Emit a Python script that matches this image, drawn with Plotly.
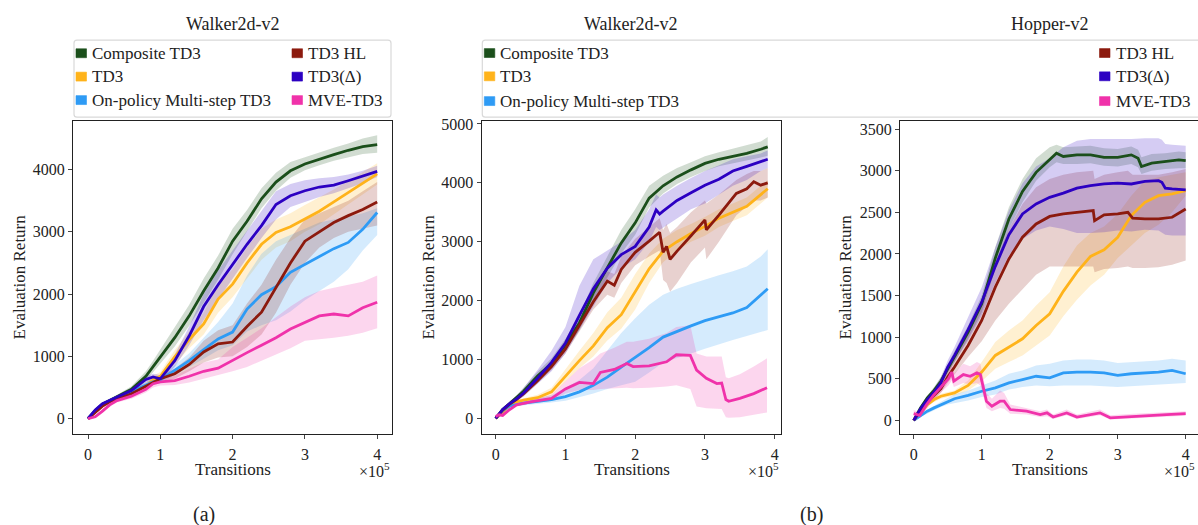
import plotly.graph_objects as go

W, H = 1198, 525
FONT = "Liberation Serif"

NAMES = ["Composite TD3", "TD3", "On-policy Multi-step TD3", "TD3 HL", "TD3(Δ)", "MVE-TD3"]
COLORS = ["#1b4f1b", "#ffb31a", "#2e9bf5", "#8c1a0e", "#2c00c2", "#f032aa"]

PANEL_TITLES = ["Walker2d-v2", "Walker2d-v2", "Hopper-v2"]
X_TICKS = [0, 1, 2, 3, 4]
Y_TICKS_A = [0, 1000, 2000, 3000, 4000]
Y_TICKS_B = [0, 1000, 2000, 3000, 4000, 5000]
Y_TICKS_C = [0, 500, 1000, 1500, 2000, 2500, 3000, 3500]

# ---------------- Panel (a): Walker2d-v2 (x in units of 1e5 transitions) ----------------
A_X = [0, 0.1, 0.2, 0.3, 0.4, 0.6, 0.8, 0.9, 1.0, 1.2, 1.4, 1.6, 1.8, 2.0, 2.2, 2.4, 2.6, 2.8, 3.0, 3.2, 3.4, 3.6, 3.8, 4.0]
A_COMP_M = [0, 130, 230, 290, 350, 470, 680, 840, 1000, 1300, 1650, 2050, 2420, 2850, 3170, 3530, 3800, 3980, 4090, 4170, 4240, 4310, 4370, 4400]
A_COMP_LO = [0, 110, 210, 270, 320, 430, 610, 760, 890, 1160, 1490, 1860, 2230, 2640, 3000, 3380, 3660, 3870, 3990, 4070, 4140, 4200, 4250, 4270]
A_COMP_HI = [0, 150, 250, 310, 380, 520, 760, 930, 1110, 1450, 1830, 2250, 2620, 3050, 3350, 3700, 3950, 4120, 4200, 4280, 4350, 4420, 4500, 4550]
A_TD3_M = [0, 110, 220, 280, 330, 400, 520, 620, 680, 990, 1270, 1520, 1920, 2160, 2500, 2800, 2990, 3080, 3200, 3330, 3480, 3630, 3780, 3930]
A_TD3_LO = [0, 90, 190, 250, 300, 360, 470, 560, 620, 880, 1130, 1350, 1700, 1950, 2250, 2550, 2750, 2850, 3000, 3120, 3280, 3430, 3600, 3760]
A_TD3_HI = [0, 130, 250, 310, 360, 450, 580, 690, 750, 1100, 1400, 1700, 2150, 2400, 2750, 3050, 3200, 3300, 3430, 3550, 3680, 3820, 3960, 4100]
A_ONP_M = [0, 130, 230, 290, 340, 430, 540, 590, 620, 780, 930, 1110, 1280, 1390, 1760, 1990, 2120, 2350, 2480, 2600, 2730, 2830, 3040, 3310]
A_ONP_LO = [0, 110, 210, 260, 310, 390, 490, 540, 570, 700, 830, 960, 1100, 1180, 1400, 1500, 1580, 1720, 1900, 2050, 2200, 2400, 2700, 2950]
A_ONP_HI = [0, 150, 250, 320, 370, 470, 590, 640, 680, 860, 1050, 1300, 1550, 1850, 2300, 2650, 2850, 2950, 3050, 3150, 3200, 3250, 3300, 3380]
A_HL_M = [0, 100, 200, 270, 320, 400, 520, 590, 640, 720, 870, 1070, 1200, 1230, 1480, 1710, 2100, 2500, 2850, 3000, 3150, 3260, 3360, 3480]
A_HL_LO = [0, 80, 180, 240, 290, 360, 470, 540, 580, 640, 760, 900, 980, 1000, 1150, 1350, 1700, 2150, 2500, 2750, 2900, 3000, 3050, 3100]
A_HL_HI = [0, 120, 220, 300, 350, 440, 570, 640, 700, 800, 980, 1250, 1420, 1500, 1850, 2150, 2550, 2900, 3200, 3300, 3400, 3500, 3650, 3800]
A_DELTA_M = [0, 140, 240, 290, 340, 450, 630, 670, 640, 930, 1330, 1800, 2150, 2480, 2800, 3100, 3440, 3580, 3660, 3720, 3750, 3820, 3900, 3970]
A_DELTA_LO = [0, 120, 220, 270, 320, 420, 580, 620, 590, 830, 1180, 1580, 1920, 2250, 2580, 2900, 3200, 3400, 3480, 3560, 3620, 3700, 3780, 3880]
A_DELTA_HI = [0, 160, 260, 310, 360, 480, 680, 720, 700, 1030, 1480, 2000, 2380, 2700, 3020, 3350, 3650, 3770, 3830, 3860, 3880, 3920, 3980, 4060]
A_MVE_M = [0, 30, 120, 220, 290, 360, 470, 560, 590, 610, 680, 760, 810, 940, 1060, 1180, 1300, 1440, 1550, 1650, 1680, 1650, 1780, 1870]
A_MVE_LO = [0, 10, 90, 190, 260, 320, 420, 500, 530, 540, 580, 640, 700, 760, 830, 920, 1030, 1130, 1250, 1280, 1300, 1330, 1380, 1450]
A_MVE_HI = [0, 60, 150, 250, 320, 400, 520, 620, 650, 690, 800, 900, 950, 1150, 1300, 1450, 1630, 1800, 1950, 2050, 2100, 2150, 2200, 2300]

# ---------------- Panel (b) left: Walker2d-v2 ----------------
B_X = [0, 0.1, 0.2, 0.3, 0.4, 0.6, 0.8, 1.0, 1.2, 1.4, 1.6, 1.8, 2.0, 2.2, 2.4, 2.6, 2.8, 3.0, 3.2, 3.4, 3.6, 3.8, 3.9]
B_COMP_M = [0, 150, 250, 350, 460, 720, 930, 1250, 1620, 2130, 2550, 2980, 3320, 3740, 3950, 4100, 4220, 4330, 4400, 4450, 4500, 4570, 4610]
B_COMP_LO = [0, 130, 220, 310, 410, 660, 850, 1150, 1500, 1980, 2380, 2800, 3120, 3580, 3820, 3980, 4100, 4200, 4280, 4330, 4380, 4430, 4460]
B_COMP_HI = [0, 170, 280, 390, 520, 790, 1020, 1350, 1750, 2300, 2750, 3200, 3550, 3950, 4120, 4250, 4350, 4450, 4520, 4580, 4630, 4700, 4780]
B_TD3_M = [0, 100, 220, 280, 310, 350, 450, 720, 980, 1230, 1540, 1760, 2140, 2540, 2840, 3000, 3140, 3260, 3400, 3500, 3600, 3800, 3900]
B_TD3_LO = [0, 80, 190, 250, 280, 310, 390, 620, 850, 1050, 1320, 1520, 1850, 2300, 2650, 2850, 3000, 3100, 3250, 3350, 3450, 3650, 3750]
B_TD3_HI = [0, 120, 250, 310, 340, 400, 520, 840, 1150, 1450, 1800, 2050, 2450, 2800, 3050, 3200, 3300, 3420, 3550, 3650, 3750, 3950, 4050]
B_ONP_M = [0, 130, 210, 240, 260, 290, 320, 370, 450, 560, 700, 870, 1030, 1200, 1380, 1480, 1570, 1660, 1730, 1790, 1880, 2100, 2200]
B_ONP_LO = [0, 110, 190, 210, 230, 250, 270, 300, 360, 420, 500, 560, 620, 780, 950, 1030, 1100, 1180, 1260, 1330, 1400, 1470, 1500]
B_ONP_HI = [0, 150, 240, 280, 300, 340, 390, 520, 650, 850, 1150, 1450, 1700, 1930, 2100, 2200, 2280, 2360, 2430, 2500, 2580, 2750, 2870]
B_DELTA_X = [0, 0.1, 0.2, 0.3, 0.4, 0.6, 0.8, 1.0, 1.2, 1.4, 1.6, 1.8, 2.0, 2.2, 2.3, 2.35, 2.4, 2.6, 2.8, 3.0, 3.2, 3.4, 3.6, 3.8, 3.9]
B_DELTA_M = [0, 150, 250, 330, 430, 680, 950, 1280, 1750, 2200, 2550, 2780, 2920, 3250, 3540, 3470, 3520, 3700, 3830, 3960, 4060, 4200, 4280, 4360, 4400]
B_DELTA_LO = [0, 130, 220, 290, 370, 580, 800, 1100, 1500, 1900, 2300, 2550, 2700, 3000, 3250, 3200, 3250, 3400, 3550, 3650, 3800, 3950, 4050, 4200, 4250]
B_DELTA_HI = [0, 170, 290, 390, 520, 820, 1150, 1550, 2250, 2700, 2850, 3000, 3200, 3550, 3800, 3750, 3800, 3950, 4080, 4200, 4300, 4400, 4450, 4500, 4550]
B_HL_X = [0, 0.1, 0.2, 0.3, 0.4, 0.6, 0.8, 1.0, 1.2, 1.4, 1.6, 1.7, 1.8, 2.0, 2.2, 2.35, 2.4, 2.45, 2.5, 2.6, 2.8, 3.0, 3.02, 3.2, 3.45, 3.6, 3.7, 3.8, 3.9]
B_HL_M = [0, 140, 240, 320, 420, 640, 880, 1180, 1580, 1980, 2330, 2260, 2530, 2820, 3010, 3160, 2820, 2920, 2700, 2840, 3100, 3370, 3200, 3450, 3820, 3900, 4020, 3960, 4000]
B_HL_LO = [0, 120, 210, 290, 380, 590, 820, 1100, 1480, 1850, 2100, 2050, 2300, 2600, 2750, 2850, 2350, 2300, 2150, 2300, 2650, 2900, 2700, 3000, 3450, 3600, 3700, 3700, 3750]
B_HL_HI = [0, 160, 270, 350, 460, 700, 950, 1260, 1680, 2100, 2500, 2450, 2750, 3050, 3250, 3400, 3200, 3300, 3150, 3250, 3500, 3700, 3650, 3800, 4050, 4150, 4200, 4200, 4250]
B_MVE_X = [0, 0.05, 0.1, 0.2, 0.3, 0.5, 0.8, 1.0, 1.2, 1.4, 1.5, 1.7, 1.88, 1.97, 2.2, 2.45, 2.59, 2.79, 2.88, 3.02, 3.17, 3.24, 3.3, 3.34, 3.5, 3.7, 3.89]
B_MVE_M = [30, 60, 50, 150, 230, 280, 340, 500, 610, 590, 780, 830, 930, 880, 890, 960, 1080, 1070, 820, 680, 590, 600, 320, 290, 340, 420, 520]
B_MVE_LO = [0, 40, 30, 120, 200, 250, 300, 420, 480, 480, 500, 510, 520, 510, 520, 540, 560, 500, 200, 170, 160, 160, 20, 10, 20, 60, 100]
B_MVE_HI = [60, 80, 70, 180, 260, 310, 400, 620, 850, 1000, 1100, 1200, 1300, 1300, 1350, 1450, 1550, 1580, 1100, 1050, 1050, 1050, 700, 680, 750, 880, 1020]

# ---------------- Panel (b) right: Hopper-v2 ----------------
C_X = [0, 0.1, 0.2, 0.3, 0.4, 0.5, 0.6, 0.8, 1.0, 1.2, 1.4, 1.6, 1.8, 2.0, 2.2, 2.4, 2.6, 2.8, 3.0, 3.2, 3.4, 3.6, 3.8, 4.0]
C_TD3_M = [0, 80, 190, 250, 290, 310, 330, 420, 580, 780, 880, 980, 1140, 1280, 1550, 1780, 1970, 2050, 2200, 2460, 2620, 2700, 2720, 2760]
C_TD3_LO = [0, 60, 170, 220, 260, 280, 300, 360, 470, 620, 700, 780, 900, 1020, 1250, 1450, 1620, 1750, 1950, 2100, 2250, 2350, 2500, 2700]
C_TD3_HI = [0, 100, 210, 280, 320, 340, 360, 480, 700, 940, 1080, 1200, 1380, 1540, 1850, 2100, 2250, 2330, 2480, 2700, 2880, 2920, 2950, 2980]
C_ONP_M = [0, 60, 110, 150, 190, 230, 260, 300, 350, 390, 450, 490, 530, 510, 570, 580, 580, 570, 540, 560, 570, 580, 600, 560]
C_ONP_LO = [0, 40, 90, 120, 160, 190, 210, 240, 280, 310, 370, 400, 420, 410, 420, 420, 420, 410, 400, 410, 420, 430, 440, 450]
C_ONP_HI = [0, 80, 130, 180, 220, 270, 310, 360, 420, 480, 560, 600, 660, 680, 720, 730, 730, 720, 690, 700, 710, 720, 740, 720]
C_COMP_X = [0, 0.1, 0.2, 0.3, 0.4, 0.5, 0.6, 0.8, 1.0, 1.2, 1.4, 1.6, 1.8, 2.0, 2.1, 2.2, 2.4, 2.6, 2.8, 3.0, 3.2, 3.3, 3.35, 3.5, 3.7, 3.9, 4.0]
C_COMP_M = [0, 150, 270, 360, 470, 620, 760, 1060, 1400, 1950, 2420, 2750, 2980, 3140, 3210, 3170, 3190, 3190, 3160, 3160, 3190, 3150, 3050, 3090, 3110, 3130, 3120]
C_COMP_LO = [0, 130, 240, 320, 420, 560, 690, 980, 1300, 1820, 2300, 2620, 2880, 3040, 3100, 3080, 3080, 3090, 3060, 3050, 3080, 3040, 2960, 3000, 3020, 3030, 3030]
C_COMP_HI = [0, 170, 300, 400, 520, 680, 830, 1140, 1500, 2080, 2560, 2900, 3150, 3280, 3310, 3280, 3290, 3300, 3270, 3260, 3290, 3250, 3160, 3200, 3210, 3230, 3220]
C_DELTA_X = [0, 0.1, 0.2, 0.3, 0.4, 0.5, 0.6, 0.8, 1.0, 1.2, 1.4, 1.6, 1.8, 2.0, 2.2, 2.4, 2.6, 2.8, 3.0, 3.2, 3.4, 3.6, 3.65, 3.7, 3.8, 4.0]
C_DELTA_M = [0, 140, 250, 340, 450, 640, 780, 1090, 1420, 1850, 2230, 2480, 2600, 2680, 2730, 2790, 2820, 2840, 2850, 2840, 2870, 2880, 2860, 2790, 2780, 2770]
C_DELTA_LO = [0, 120, 220, 300, 400, 580, 700, 960, 1260, 1650, 1980, 2180, 2280, 2330, 2300, 2250, 2250, 2260, 2280, 2270, 2290, 2280, 2260, 2230, 2220, 2220]
C_DELTA_HI = [0, 170, 290, 390, 520, 720, 880, 1240, 1600, 2080, 2520, 2850, 3050, 3150, 3280, 3360, 3380, 3380, 3380, 3380, 3390, 3390, 3370, 3320, 3310, 3300]
C_HL_X = [0, 0.1, 0.2, 0.3, 0.4, 0.5, 0.6, 0.8, 1.0, 1.2, 1.4, 1.6, 1.8, 2.0, 2.2, 2.4, 2.64, 2.66, 2.8, 3.0, 3.15, 3.22, 3.4, 3.6, 3.8, 4.0]
C_HL_M = [0, 120, 220, 300, 380, 520, 640, 900, 1200, 1600, 1940, 2200, 2360, 2450, 2480, 2500, 2520, 2400, 2470, 2480, 2500, 2430, 2420, 2420, 2440, 2540]
C_HL_LO = [0, 100, 190, 260, 330, 450, 550, 760, 950, 1200, 1400, 1580, 1750, 1850, 1850, 1850, 1850, 1780, 1820, 1830, 1850, 1830, 1830, 1840, 1870, 1920]
C_HL_HI = [0, 140, 250, 340, 430, 590, 730, 1050, 1450, 1900, 2300, 2600, 2800, 2900, 2950, 2980, 3000, 2900, 2950, 2980, 3000, 2950, 2950, 2950, 2980, 3020]
C_MVE_X = [0, 0.09, 0.19, 0.29, 0.39, 0.51, 0.56, 0.59, 0.73, 0.83, 0.93, 0.98, 1.07, 1.15, 1.27, 1.33, 1.42, 1.66, 1.86, 1.96, 2.05, 2.25, 2.4, 2.74, 2.89, 3.23, 3.48, 3.72, 4.0]
C_MVE_M = [80, 60, 190, 300, 390, 500, 580, 470, 550, 530, 570, 550, 230, 170, 230, 230, 130, 110, 70, 90, 40, 90, 40, 90, 30, 50, 60, 70, 80]
C_MVE_LO = [40, 30, 140, 240, 330, 420, 480, 400, 450, 430, 450, 420, 150, 110, 150, 140, 80, 70, 40, 50, 15, 60, 15, 60, 10, 25, 35, 45, 55]
C_MVE_HI = [120, 100, 240, 360, 450, 600, 680, 560, 680, 650, 700, 680, 330, 260, 360, 330, 190, 150, 110, 130, 70, 130, 70, 130, 60, 80, 90, 100, 110]


def rgba(h, a):
    h = h.lstrip("#")
    r, g, b = int(h[0:2], 16), int(h[2:4], 16), int(h[4:6], 16)
    return f"rgba({r},{g},{b},{a})"


def px(x):
    return x / W


def py(y):
    return 1 - y / H


PANELS = [
    ("x", "y", [
        (A_X, A_COMP_M, A_COMP_LO, A_COMP_HI),
        (A_X, A_TD3_M, A_TD3_LO, A_TD3_HI),
        (A_X, A_ONP_M, A_ONP_LO, A_ONP_HI),
        (A_X, A_HL_M, A_HL_LO, A_HL_HI),
        (A_X, A_DELTA_M, A_DELTA_LO, A_DELTA_HI),
        (A_X, A_MVE_M, A_MVE_LO, A_MVE_HI),
    ]),
    ("x2", "y2", [
        (B_X, B_COMP_M, B_COMP_LO, B_COMP_HI),
        (B_X, B_TD3_M, B_TD3_LO, B_TD3_HI),
        (B_X, B_ONP_M, B_ONP_LO, B_ONP_HI),
        (B_HL_X, B_HL_M, B_HL_LO, B_HL_HI),
        (B_DELTA_X, B_DELTA_M, B_DELTA_LO, B_DELTA_HI),
        (B_MVE_X, B_MVE_M, B_MVE_LO, B_MVE_HI),
    ]),
    ("x3", "y3", [
        (C_COMP_X, C_COMP_M, C_COMP_LO, C_COMP_HI),
        (C_X, C_TD3_M, C_TD3_LO, C_TD3_HI),
        (C_X, C_ONP_M, C_ONP_LO, C_ONP_HI),
        (C_HL_X, C_HL_M, C_HL_LO, C_HL_HI),
        (C_DELTA_X, C_DELTA_M, C_DELTA_LO, C_DELTA_HI),
        (C_MVE_X, C_MVE_M, C_MVE_LO, C_MVE_HI),
    ]),
]

fig = go.Figure()

for xa, ya, series in PANELS:
    for i, (X, M, LO, HI) in enumerate(series):
        fig.add_trace(go.Scatter(
            x=list(X) + list(X)[::-1], y=list(HI) + list(LO)[::-1],
            fill="toself", fillcolor=rgba(COLORS[i], 0.2), line=dict(width=0),
            mode="lines", hoverinfo="skip", showlegend=False, xaxis=xa, yaxis=ya))
    for i, (X, M, LO, HI) in enumerate(series):
        fig.add_trace(go.Scatter(
            x=X, y=M, mode="lines", name=NAMES[i],
            line=dict(color=COLORS[i], width=2.8), showlegend=False,
            xaxis=xa, yaxis=ya))

AX = dict(showgrid=False, zeroline=False, ticks="outside", ticklen=4, tickwidth=1,
          tickcolor="#444", showline=True, linecolor="#222", linewidth=1.3,
          tickfont=dict(family=FONT, size=16, color="#222"))
XAX = dict(AX, ticklabelstandoff=1)

Y_TOP, Y_BOT = 117, 433.3
ydom = [py(Y_BOT), py(Y_TOP)]

fig.update_layout(
    width=W, height=H, margin=dict(l=0, r=0, t=0, b=0),
    paper_bgcolor="white", plot_bgcolor="white", showlegend=False,
    font=dict(family=FONT, color="#222"),
    xaxis=dict(XAX, domain=[px(73), px(391.5)], range=[-0.2075, 4.198], anchor="y",
               tickvals=X_TICKS, mirror=True),
    yaxis=dict(AX, domain=ydom, range=[-250, 4782], anchor="x",
               tickvals=Y_TICKS_A, ticktext=[str(v) for v in Y_TICKS_A], mirror=True),
    xaxis2=dict(XAX, domain=[px(481.7), px(780.7)], range=[-0.2007, 4.086], anchor="y2",
                tickvals=X_TICKS, mirror=True),
    yaxis2=dict(AX, domain=ydom, range=[-269, 5052], anchor="x2",
                tickvals=Y_TICKS_B, ticktext=[str(v) for v in Y_TICKS_B], mirror=True),
    xaxis3=dict(XAX, domain=[px(900), 1.0], range=[-0.2015, 4.181], anchor="y3",
                tickvals=X_TICKS, mirror=True),
    yaxis3=dict(AX, domain=ydom, range=[-166, 3598], anchor="x3",
                tickvals=Y_TICKS_C, ticktext=[str(v) for v in Y_TICKS_C]),
)

ann = []


def note(x, y, text, size, xanchor="center", textangle=0):
    ann.append(dict(x=px(x), y=py(y), xref="paper", yref="paper", text=text,
                    showarrow=False, xanchor=xanchor, yanchor="middle",
                    textangle=textangle,
                    font=dict(size=size, family=FONT, color="#222")))


# panel titles
for cx, t in zip([232.5, 631, 1050], PANEL_TITLES):
    note(cx, 19, t, 18)
# x-axis titles and multipliers
for cx in [233, 631.5, 1050]:
    note(cx, 469, "Transitions", 17)
for rx in [392, 781]:
    note(rx, 469, "×10<sup>5</sup>", 16, xanchor="right")
note(1162, 469, "×10<sup>5</sup>", 16, xanchor="left")
# y-axis titles
for cx in [19, 428, 845]:
    note(cx, 275, "Evaluation Return", 17, textangle=-90)
# sub-figure labels
note(204, 514, "(a)", 20)
note(811, 514, "(b)", 20)

shapes = []


def rounded_box(x0, y0, x1, y1, r, close_right=True):
    X = lambda v: px(v)
    Y = lambda v: py(v)
    if close_right:
        p = (f"M {X(x0 + r)},{Y(y0)} L {X(x1 - r)},{Y(y0)} Q {X(x1)},{Y(y0)} {X(x1)},{Y(y0 + r)} "
             f"L {X(x1)},{Y(y1 - r)} Q {X(x1)},{Y(y1)} {X(x1 - r)},{Y(y1)} "
             f"L {X(x0 + r)},{Y(y1)} Q {X(x0)},{Y(y1)} {X(x0)},{Y(y1 - r)} "
             f"L {X(x0)},{Y(y0 + r)} Q {X(x0)},{Y(y0)} {X(x0 + r)},{Y(y0)} Z")
    else:
        p = (f"M {X(x1)},{Y(y0)} L {X(x0 + r)},{Y(y0)} Q {X(x0)},{Y(y0)} {X(x0)},{Y(y0 + r)} "
             f"L {X(x0)},{Y(y1 - r)} Q {X(x0)},{Y(y1)} {X(x0 + r)},{Y(y1)} L {X(x1)},{Y(y1)}")
    return dict(type="path", xref="paper", yref="paper", path=p,
                line=dict(color="#d9d9d9", width=1.2), fillcolor="rgba(0,0,0,0)", layer="above")


shapes.append(rounded_box(74, 35.5, 391, 113.3, 3))
shapes.append(rounded_box(482.3, 35.5, 1205, 113.3, 3, close_right=False))

ROWS_A = [48.7, 72.3, 96]
ROWS_B = [48.5, 72, 97]


def legend_entry(sx, sy, tx, name, color):
    shapes.append(dict(type="rect", xref="paper", yref="paper",
                       x0=px(sx), x1=px(sx + 10.5), y0=py(sy - 4.5), y1=py(sy + 4.5),
                       fillcolor=color, line=dict(width=0.6, color=color), layer="above"))
    note(tx, sy, name, 17, xanchor="left")


# panel (a) legend: two columns
for r in range(3):
    legend_entry(76, ROWS_A[r], 89.5, NAMES[r], COLORS[r])
    legend_entry(292, ROWS_A[r], 305.5, NAMES[r + 3], COLORS[r + 3])
# panel (b) legend: spans both plots
for r in range(3):
    legend_entry(484.3, ROWS_B[r], 498, NAMES[r], COLORS[r])
    legend_entry(1099.5, ROWS_B[r], 1113.5, NAMES[r + 3], COLORS[r + 3])

fig.update_layout(annotations=ann, shapes=shapes)

fig.write_html("out.html")
